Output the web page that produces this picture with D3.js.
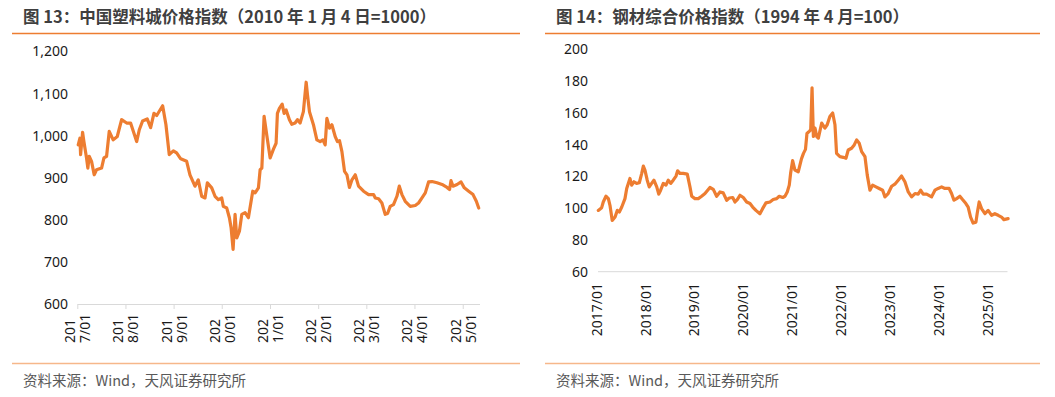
<!DOCTYPE html>
<html>
<head>
<meta charset="utf-8">
<script src="https://cdn.jsdelivr.net/npm/d3@7"></script>
<style>
body{margin:0;background:#fff;}
svg{display:block;font-family:"Noto Sans CJK SC","Noto Sans",sans-serif;}
</style>
</head>
<body>
<svg id="chart" width="1055" height="397"></svg>
<script>
/* Two index charts: plastics city price index and steel composite price index */

//Plastics city price index (2010-01-04 = 1000)
var plasticDates = ["2017-01-08","2017-01-21","2017-01-26","2017-02-10","2017-02-20","2017-03-12","2017-03-22","2017-04-01","2017-04-19","2017-05-09",
    "2017-05-27","2017-07-04","2017-07-22","2017-08-11","2017-08-31","2017-09-30","2017-10-31","2017-12-03","2018-01-10","2018-02-09",
    "2018-03-27","2018-04-16","2018-05-11","2018-06-15","2018-07-11","2018-08-05","2018-08-26","2018-10-10","2018-11-04","2018-11-29",
    "2018-12-30","2019-01-24","2019-02-24","2019-04-10","2019-05-05","2019-06-12","2019-07-07","2019-08-02","2019-08-27","2019-09-14",
    "2019-10-17","2019-11-11","2019-12-06","2020-01-01","2020-01-13","2020-02-08","2020-02-28","2020-03-12","2020-03-27","2020-04-11",
    "2020-04-24","2020-05-14","2020-06-01","2020-06-26","2020-07-21","2020-08-23","2020-09-10","2020-10-05","2020-10-18","2020-10-31",
    "2020-11-17","2020-12-08","2021-01-02","2021-01-27","2021-02-16","2021-02-26","2021-03-13","2021-04-03","2021-04-18","2021-05-03",
    "2021-05-28","2021-06-15","2021-07-10","2021-07-28","2021-08-17","2021-09-11","2021-10-02","2021-10-12","2021-10-27","2021-11-26",
    "2021-12-22","2022-01-16","2022-02-06","2022-02-23","2022-03-08","2022-03-28","2022-04-15","2022-05-10","2022-05-27","2022-06-12",
    "2022-06-30","2022-07-20","2022-08-07","2022-08-26","2022-09-14","2022-10-09","2022-11-03","2022-12-11","2023-01-18","2023-02-25",
    "2023-03-10","2023-04-04","2023-04-29","2023-05-24","2023-06-11","2023-07-01","2023-07-26","2023-08-21","2023-09-08","2023-09-28",
    "2023-10-23","2023-11-30","2024-01-07","2024-02-01","2024-02-27","2024-03-23","2024-04-17","2024-05-13","2024-06-20","2024-07-28",
    "2024-09-04","2024-09-23","2024-10-04","2024-10-19","2024-11-19","2024-12-19","2025-01-13","2025-02-15","2025-03-20","2025-04-14",
    "2025-05-02"];
var plasticValues = [978,994,955,1008,986,947,923,951,939,907,
    919,923,947,951,1010,990,998,1038,1030,1030,
    986,1014,1035,1040,1019,1053,1048,1071,1026,955,
    964,959,945,939,907,880,895,856,852,888,
    876,856,848,852,832,828,805,781,730,813,
    757,773,813,817,805,868,864,876,919,923,
    1046,1000,947,968,982,1053,1065,1075,1053,1061,
    1038,1027,1030,1038,1030,1057,1127,1097,1057,1026,
    990,986,990,978,1041,1018,1026,998,986,988,
    962,915,907,877,895,907,880,868,860,860,
    852,850,840,813,815,832,836,856,880,860,
    844,832,834,840,852,864,890,891,888,884,
    877,872,893,880,884,890,876,868,860,844,
    828];

//Steel composite price index (1994-04 = 100)
var steelDates = ["2017-01-13","2017-02-07","2017-02-19","2017-03-11","2017-03-29","2017-04-10","2017-04-27","2017-05-18","2017-06-04","2017-06-19",
    "2017-07-07","2017-07-31","2017-08-13","2017-09-06","2017-09-19","2017-10-06","2017-10-26","2017-11-15","2017-12-03","2017-12-15",
    "2017-12-27","2018-01-13","2018-01-28","2018-02-15","2018-03-04","2018-03-25","2018-04-09","2018-04-23","2018-05-13","2018-06-02",
    "2018-06-19","2018-07-07","2018-07-26","2018-08-16","2018-08-28","2018-09-14","2018-10-09","2018-11-08","2018-11-28","2018-12-11",
    "2019-01-04","2019-01-29","2019-02-23","2019-03-20","2019-04-26","2019-05-21","2019-06-15","2019-07-10","2019-08-03","2019-08-29",
    "2019-09-17","2019-10-13","2019-10-30","2019-11-16","2019-12-06","2019-12-31","2020-01-25","2020-02-19","2020-03-10","2020-04-03",
    "2020-05-03","2020-05-23","2020-06-17","2020-07-17","2020-08-10","2020-09-05","2020-09-24","2020-10-20","2020-11-06","2020-11-23",
    "2020-12-08","2020-12-18","2021-01-02","2021-01-19","2021-02-13","2021-03-09","2021-03-24","2021-04-08","2021-04-19","2021-05-08",
    "2021-05-17","2021-05-27","2021-06-06","2021-06-18","2021-07-01","2021-07-13","2021-08-07","2021-08-31","2021-09-17","2021-10-07",
    "2021-10-28","2021-11-14","2021-11-26","2021-12-21","2022-01-15","2022-02-04","2022-02-21","2022-03-18","2022-04-07","2022-04-25",
    "2022-05-14","2022-06-01","2022-06-26","2022-07-13","2022-08-02","2022-08-22","2022-09-16","2022-10-10","2022-11-05","2022-11-22",
    "2022-12-16","2023-01-11","2023-02-04","2023-03-01","2023-03-26","2023-04-20","2023-05-15","2023-06-09","2023-07-04","2023-07-28",
    "2023-08-15","2023-09-03","2023-09-29","2023-11-05","2023-11-30","2023-12-24","2024-01-19","2024-02-12","2024-03-15","2024-04-02",
    "2024-04-20","2024-05-10","2024-06-03","2024-06-23","2024-07-18","2024-08-04","2024-08-22","2024-09-10","2024-10-01","2024-10-10",
    "2024-10-25","2024-11-12","2024-12-07","2024-12-31","2025-01-26","2025-02-19","2025-03-16","2025-04-10","2025-04-27","2025-05-29"];
var steelValues = [98.6,100.3,103.9,107.5,106,101.8,92.3,94.4,98.6,97.6,
    100.7,106,112.4,118.7,114.5,116.6,115.6,116,121.9,126.5,
    124,117.6,113.4,115.6,117.6,113.4,108.8,111.3,115.6,114.5,
    117.6,115.6,117.6,120.2,123.5,121.9,121.9,121.4,113.4,107.5,
    106,106,107.5,109.2,113,111.8,107.5,110.2,109.6,105,
    106.4,106.7,103.9,105.4,108.1,106.7,103.9,102.9,100.7,98.6,
    96.5,99.7,103.3,103.9,105.4,106,107.5,106.7,107.5,110.2,
    114.5,121.9,129.9,124,122.9,131,134.5,137,147,148.5,
    149.3,175.7,145.1,150.4,145.1,144.1,153.6,150.4,152.5,157.7,
    159.9,152.5,134.5,132.4,132,131.4,136.6,137.7,139.8,143,
    140.9,135.6,132.4,120.8,111.3,114.5,113.4,112.4,111.3,107.1,
    109.2,113.8,115.1,117.6,120.2,116.6,110.2,107.1,109.2,108.8,
    111.3,108.8,108.8,107.1,111.3,112.4,113.4,112.4,112.4,109.2,
    105,106,107.5,105.4,102.9,100.7,94.4,90.6,91.2,96.5,
    103.9,99.7,96.5,98.6,95.5,96.5,95.5,94.4,92.8,93.4];

//Axis ticks
var plasticTicks = [600,700,800,900,1000,1100,1200];
var steelTicks = [60,80,100,120,140,160,180,200];
var yearLabels = ["2017/01","2018/01","2019/01","2020/01","2021/01","2022/01","2023/01","2024/01","2025/01"];

//Titles and source
var plasticTitle = "图 13：中国塑料城价格指数（2010 年 1 月 4 日=1000）";
var steelTitle = "图 14：钢材综合价格指数（1994 年 4 月=100）";
var sourceText = "资料来源：Wind，天风证券研究所";

var orange = "#ED7D31";
var parseDate = d3.timeParse("%Y-%m-%d");
var parseLabel = d3.timeParse("%Y/%m");

function toSeries(dates, values){
    return dates.map(function(d, i){
        return {date: parseDate(d), value: values[i]};
    });
};

//Draw the title, the two orange rules and the source line of a panel
function drawFrame(svg, left, right, title){
    svg.append("text")
        .attr("x", left + 11)
        .attr("y", 23)
        .attr("font-size", 16.5)
        .attr("font-weight", "bold")
        .attr("fill", "#3f3f3f")
        .text(title);
    svg.append("line")
        .attr("x1", left).attr("x2", right)
        .attr("y1", 33.5).attr("y2", 33.5)
        .attr("stroke", orange).attr("stroke-width", 1.3);
    svg.append("line")
        .attr("x1", left).attr("x2", right)
        .attr("y1", 363.5).attr("y2", 363.5)
        .attr("stroke", "#F6B78A").attr("stroke-width", 1.3);
    svg.append("text")
        .attr("x", left + 11)
        .attr("y", 386)
        .attr("font-size", 14.5)
        .attr("fill", "#595959")
        .text(sourceText);
};

//Value axis with labels only
function drawYAxis(svg, y, ticks, xPos, fmt){
    var axis = d3.axisLeft(y)
        .tickValues(ticks)
        .tickSize(0)
        .tickPadding(0)
        .tickFormat(fmt);
    var g = svg.append("g")
        .attr("transform", "translate(" + xPos + ",0)")
        .call(axis);
    g.select(".domain").remove();
    g.selectAll("text")
        .attr("font-size", 14)
        .attr("font-family", "\"Noto Sans\",sans-serif")
        .attr("fill", "#1a1a1a");
};

function drawLine(svg, x, y, series){
    var line = d3.line()
        .x(function(d){ return x(d.date); })
        .y(function(d){ return y(d.value); });
    svg.append("path")
        .datum(series)
        .attr("d", line)
        .attr("fill", "none")
        .attr("stroke", orange)
        .attr("stroke-width", 3.2)
        .attr("stroke-linejoin", "round")
        .attr("stroke-linecap", "round");
};

//Left panel: plastics index
function drawPlastic(svg){
    drawFrame(svg, 12, 520, plasticTitle);

    var x = d3.scaleTime()
        .domain([parseDate("2017-01-01"), parseDate("2025-05-08")])
        .range([77.3, 479.5]);
    var y = d3.scaleLinear()
        .domain([600, 1200])
        .range([304, 51.5]);

    drawYAxis(svg, y, plasticTicks, 68, d3.format(","));

    //bottom axis with tick marks going down
    var axis = d3.axisBottom(x)
        .tickValues(yearLabels.map(parseLabel))
        .tickSize(5)
        .tickSizeOuter(0)
        .tickFormat("");
    var g = svg.append("g")
        .attr("transform", "translate(0," + y(600) + ")")
        .call(axis);
    g.select(".domain").attr("stroke", "#D9D9D9");
    g.selectAll(".tick line").attr("stroke", "#D9D9D9");

    //labels are wrapped after three characters and rotated
    var labels = svg.append("g").selectAll("text")
        .data(yearLabels)
        .enter()
        .append("text")
        .attr("transform", function(d){
            return "translate(" + x(parseLabel(d)) + ",343) rotate(-90)";
        })
        .attr("font-size", 14)
        .attr("font-family", "\"Noto Sans\",sans-serif")
        .attr("fill", "#1a1a1a");
    labels.append("tspan")
        .attr("x", 0).attr("y", -2)
        .text(function(d){ return d.slice(0, 3); });
    labels.append("tspan")
        .attr("x", 0).attr("y", 13)
        .text(function(d){ return d.slice(3); });

    drawLine(svg, x, y, toSeries(plasticDates, plasticValues));
};

//Right panel: steel index
function drawSteel(svg){
    drawFrame(svg, 545, 1040, steelTitle);

    var x = d3.scaleTime()
        .domain([parseDate("2017-01-01"), parseDate("2025-06-01")])
        .range([596.7, 1008.5]);
    var y = d3.scaleLinear()
        .domain([60, 200])
        .range([271.7, 49.3]);

    drawYAxis(svg, y, steelTicks, 588, d3.format("d"));

    //baseline only, no tick marks
    svg.append("line")
        .attr("x1", 598).attr("x2", 1007.5)
        .attr("y1", y(60)).attr("y2", y(60))
        .attr("stroke", "#D9D9D9");

    svg.append("g").selectAll("text")
        .data(yearLabels)
        .enter()
        .append("text")
        .attr("transform", function(d){
            return "translate(" + x(parseLabel(d)) + ",283) rotate(-90)";
        })
        .attr("text-anchor", "end")
        .attr("dy", "0.35em")
        .attr("font-size", 14)
        .attr("font-family", "\"Noto Sans\",sans-serif")
        .attr("fill", "#1a1a1a")
        .text(function(d){ return d; });

    drawLine(svg, x, y, toSeries(steelDates, steelValues));
};

function createChart(){
    var svg = d3.select("#chart");
    drawPlastic(svg);
    drawSteel(svg);
};

createChart();
</script>
</body>
</html>
